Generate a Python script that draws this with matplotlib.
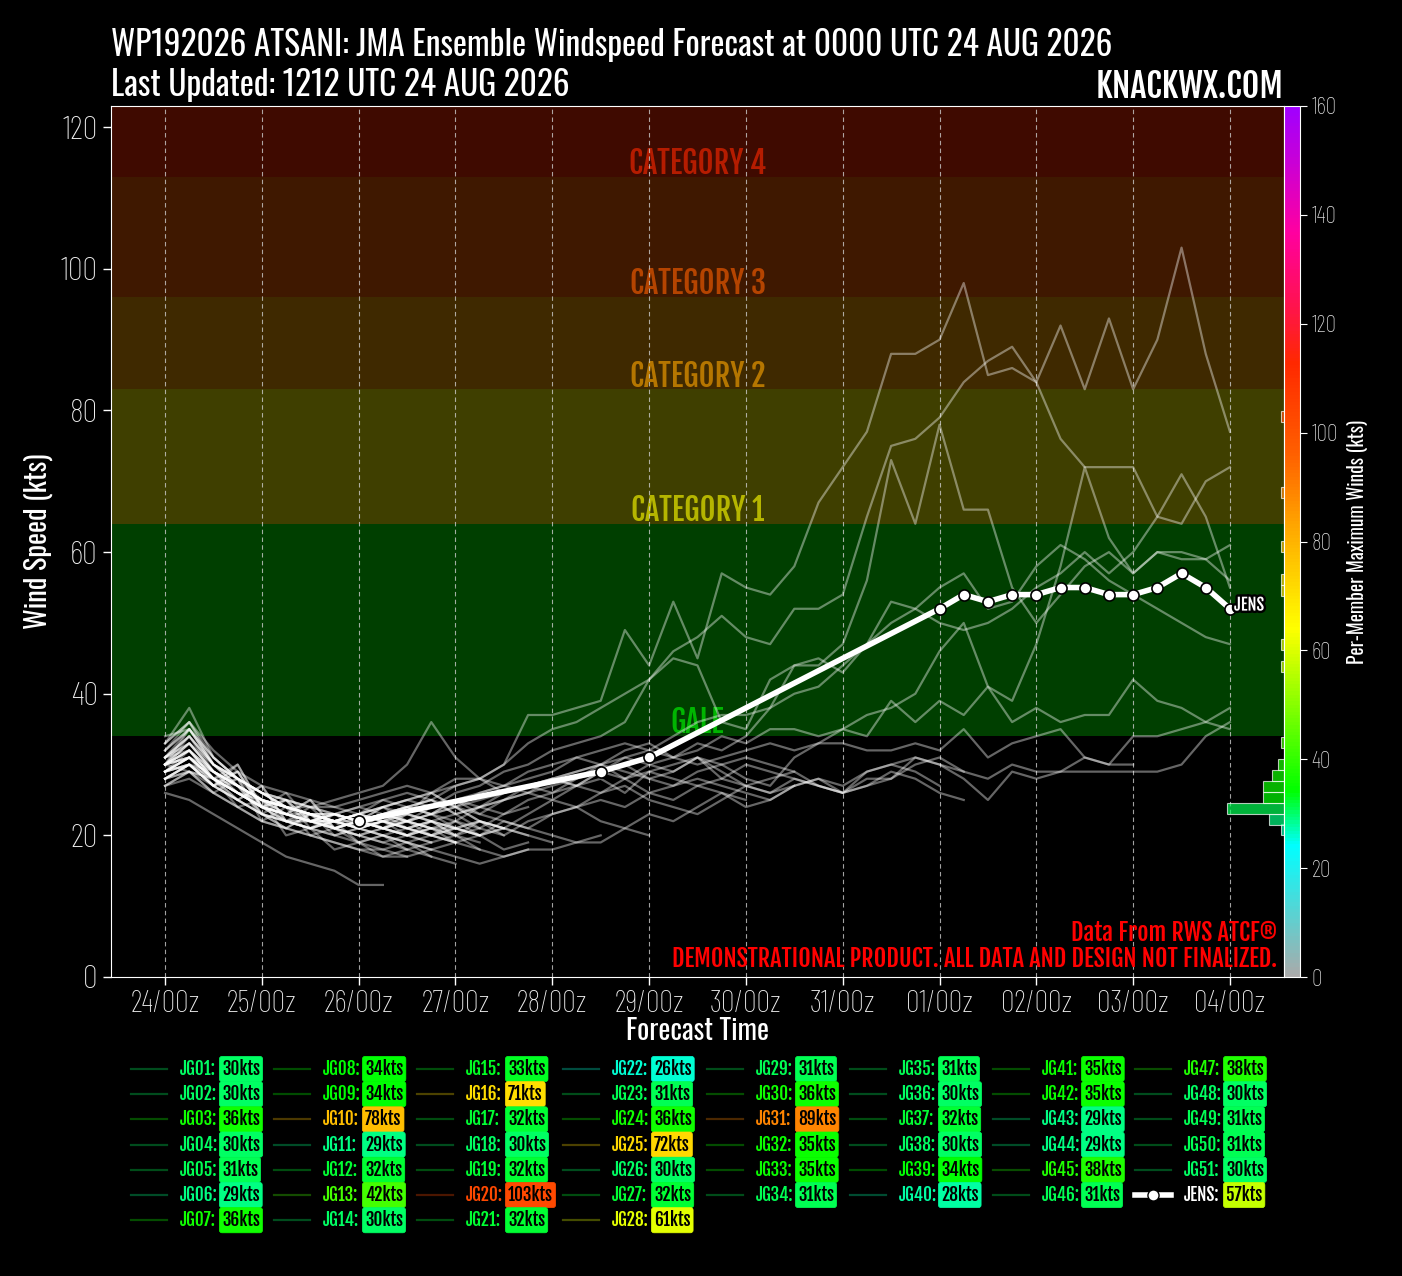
import numpy as np
import matplotlib
matplotlib.use('Agg')
import matplotlib.pyplot as plt
import matplotlib.colors as mcolors
import matplotlib.patheffects as pe

# ---- data ----
title_1 = 'WP192026 ATSANI: JMA Ensemble Windspeed Forecast at 0000 UTC 24 AUG 2026'
title_2 = 'Last Updated: 1212 UTC 24 AUG 2026'
day_labels = ['24/00z', '25/00z', '26/00z', '27/00z', '28/00z', '29/00z',
              '30/00z', '31/00z', '01/00z', '02/00z', '03/00z', '04/00z']

# member tracks, 6-hourly from 24/00z (kts)
JG01 = [30, 29, 28, 26, 24, 25, 22, 22, 23, 21, 22]
JG02 = [29, 30, 28, 25, 23, 22, 21, 22, 21, 22, 20, 21, 19]
JG03 = [33, 36, 31, 28, 26, 24, 24, 23, 22, 24, 23, 26, 24, 22, 21, 23, 25, 27, 28, 26,
        29, 30, 31, 29, 27, 28, 29]
JG04 = [28, 30, 27, 28, 22, 24, 20, 21, 19, 20, 18]
JG05 = [30, 31, 29, 26, 25, 22, 23, 21, 22, 23, 22, 21]
JG06 = [28, 29, 26, 24, 22, 21, 20, 19, 18, 17, 18, 17, 16]
JG07 = [32, 36, 30, 27, 25, 23, 22, 22, 21, 22, 23, 22, 20, 21, 23, 24]
JG08 = [31, 34, 29, 27, 24, 23, 23, 22, 21, 22, 21, 20, 22, 21]
JG09 = [30, 34, 30, 28, 26, 24, 23, 23, 22, 23, 24]
JG10 = [31, 33, 29, 27, 25, 24, 22, 23, 22, 24, 25, 24, 26, 27, 29, 30, 32, 33, 34, 36,
        42, 45, 44, 36, 35, 42, 44, 44, 47, 56, 73, 64, 78, 66, 66, 55, 50, 54, 58, 60,
        57, 60, 59, 59, 61]
JG11 = [27, 29, 28, 24, 25, 20, 21, 18, 19, 17, 17]
JG12 = [30, 32, 29, 26, 24, 23, 22, 21, 22, 21, 20, 22, 21, 20]
JG13 = [29, 31, 28, 26, 25, 24, 23, 22, 23, 24, 25, 26, 27, 28, 27, 29, 30, 31, 30, 32,
        33, 31, 30, 31, 32, 33, 32, 33, 35, 34, 39, 36, 39, 37, 41, 36, 38, 36, 37, 37,
        42, 39, 38, 36, 35]
JG14 = [29, 30, 28, 27, 23, 25, 22, 21, 22, 21, 23, 22]
JG15 = [31, 33, 30, 27, 25, 24, 23, 22, 23, 22, 22, 21, 21]
JG16 = [30, 32, 28, 26, 24, 23, 22, 22, 21, 23, 24, 25, 24, 26, 27, 28, 29, 31, 32, 33,
        32, 34, 36, 37, 37, 38, 40, 41, 44, 47, 50, 52, 50, 49, 50, 52, 55, 57, 60, 57,
        60, 65, 71, 65, 55]
JG17 = [30, 32, 28, 29, 24, 22, 24, 21, 20, 21, 20]
JG18 = [28, 30, 27, 25, 23, 22, 21, 22, 23, 22, 21, 20, 21, 22, 20]
JG19 = [31, 32, 29, 27, 25, 23, 22, 23, 24, 23, 22, 23, 24, 22, 21, 20]
JG20 = [31, 34, 30, 28, 26, 25, 24, 24, 25, 26, 27, 26, 28, 28, 30, 37, 37, 38, 39, 49,
        44, 53, 45, 57, 55, 54, 58, 67, 72, 77, 88, 88, 90, 98, 85, 86, 84, 92, 83, 93,
        83, 90, 103, 88, 77]
JG21 = [29, 32, 28, 26, 24, 23, 22, 22, 21, 22, 21, 22, 20]
JG22 = [26, 25, 23, 21, 19, 17, 16, 15, 13, 13]
JG23 = [29, 31, 28, 25, 23, 22, 21, 20, 21, 20, 19, 20, 19, 18, 17, 18]
JG24 = [33, 36, 32, 29, 27, 26, 25, 24, 23, 25, 24, 23, 25, 24, 23, 25, 26, 27, 29, 31,
        30, 29, 31, 28, 27, 26, 27, 28, 27, 29, 30, 31, 30, 29]
JG25 = [30, 33, 29, 27, 25, 24, 23, 22, 22, 23, 24, 23, 22, 24, 25, 26, 27, 28, 29, 28,
        30, 31, 32, 34, 33, 35, 35, 34, 35, 37, 38, 40, 46, 50, 41, 39, 47, 58, 72, 62,
        57, 60, 60, 59, 56]
JG26 = [28, 30, 29, 27, 23, 21, 23, 21, 20, 19, 18, 19]
JG27 = [30, 32, 28, 26, 24, 22, 22, 21, 22, 23, 22, 21, 22, 20]
JG28 = [29, 31, 28, 26, 24, 23, 22, 21, 22, 23, 24, 25, 23, 24, 25, 27, 26, 28, 30, 31,
        32, 31, 33, 32, 34, 38, 44, 45, 43, 47, 53, 52, 55, 57, 52, 53, 58, 61, 59, 56,
        54, 52, 50, 48, 47]
JG29 = [30, 31, 28, 30, 24, 26, 22, 21, 20, 21, 20, 19, 20, 18]
JG30 = [32, 35, 31, 28, 26, 25, 24, 25, 26, 27, 30, 36, 31, 28, 26, 27, 28, 29, 30, 28,
        26, 27, 28, 27, 26, 25, 27]
JG31 = [30, 33, 29, 27, 25, 23, 22, 23, 24, 25, 26, 25, 27, 28, 30, 33, 35, 36, 38, 40,
        42, 46, 48, 51, 48, 47, 52, 52, 54, 65, 75, 76, 79, 84, 87, 89, 84, 76, 72, 72,
        72, 65, 64, 70, 72]
JG32 = [32, 35, 30, 28, 25, 24, 23, 22, 23, 22, 24, 25, 23, 24, 26, 27, 28, 27, 29, 30,
        28, 29, 31, 30, 28, 27, 31, 33, 33, 32, 32, 33, 32, 35, 31, 33, 34, 35, 31, 30, 30]
JG33 = [34, 35, 30, 27, 25, 24, 23, 23, 22, 21, 22, 21, 20, 22, 21]
JG34 = [29, 31, 28, 26, 24, 22, 21, 20, 21, 22, 21, 20, 19, 20, 18, 19]
JG35 = [30, 31, 27, 29, 24, 23, 25, 21, 20, 19, 20, 19]
JG36 = [28, 30, 27, 25, 23, 22, 22, 21, 22, 21, 20, 21, 20, 19]
JG37 = [30, 32, 29, 27, 25, 24, 23, 22, 23, 22, 21, 22, 21, 20, 22, 21, 20, 19, 20]
JG38 = [29, 30, 27, 30, 24, 25, 21, 22, 19, 18, 19, 17]
JG39 = [31, 34, 30, 28, 26, 24, 23, 22, 22, 23, 22, 24, 25, 23, 22, 21, 23, 24, 25, 24,
        26, 25, 27, 26, 24, 25, 27, 28, 26, 27, 29, 28, 26, 25]
JG40 = [27, 28, 26, 24, 22, 21, 20, 19, 18, 18, 17, 18, 17, 16, 17, 18, 18, 19, 19, 21, 20]
JG41 = [30, 35, 31, 28, 26, 25, 24, 23, 22, 23, 21, 22, 23, 21, 20, 22, 23, 24, 22, 21,
        23, 22, 24, 26, 25]
JG42 = [31, 35, 30, 28, 26, 24, 23, 22, 23, 24, 25, 26, 24, 23, 25, 26, 25, 24, 26, 27,
        25, 24, 23, 25, 27, 26, 28, 27, 26, 29, 30, 29, 27]
JG43 = [27, 29, 26, 28, 23, 21, 23, 20, 19, 20, 19, 18, 19]
JG44 = [28, 29, 27, 25, 27, 22, 21, 23, 21, 20, 19, 18]
JG45 = [30, 33, 29, 27, 25, 24, 23, 22, 23, 24, 22, 23, 25, 26, 27, 26, 28, 29, 30, 29,
        28, 27, 29, 30, 31, 30, 29, 27, 26, 27, 28, 31, 30, 28, 25, 29, 28, 29, 31, 30,
        34, 34, 35, 36, 38]
JG46 = [29, 31, 28, 26, 24, 23, 22, 23, 22, 21, 22, 23, 21, 20, 21]
JG47 = [33, 38, 31, 28, 26, 24, 23, 23, 22, 23, 24, 23, 24, 25, 26, 27, 28, 27, 26, 28,
        29, 28, 27, 28, 30, 29, 28, 27, 26, 28, 28, 30, 31, 29, 28, 30, 29, 29, 29, 29,
        29, 29, 30, 34, 36]
JG48 = [29, 30, 27, 29, 24, 23, 25, 21, 22, 21, 20, 21]
JG49 = [30, 31, 28, 26, 24, 23, 22, 23, 22, 21, 22, 20, 21, 22, 21, 20, 19]
JG50 = [29, 31, 29, 27, 25, 24, 23, 22, 21, 22, 23, 22, 21, 20, 21]
JG51 = [28, 30, 27, 25, 27, 22, 21, 22, 21, 20, 21, 20, 19]

members = [JG01, JG02, JG03, JG04, JG05, JG06, JG07, JG08, JG09, JG10,
           JG11, JG12, JG13, JG14, JG15, JG16, JG17, JG18, JG19, JG20,
           JG21, JG22, JG23, JG24, JG25, JG26, JG27, JG28, JG29, JG30,
           JG31, JG32, JG33, JG34, JG35, JG36, JG37, JG38, JG39, JG40,
           JG41, JG42, JG43, JG44, JG45, JG46, JG47, JG48, JG49, JG50, JG51]
member_names = ['JG%02d' % (i + 1) for i in range(len(members))]

# ensemble mean (hours after 24/00z, kts)
jens_hours = [48, 108, 120, 192, 198, 204, 210, 216, 222, 228, 234, 240, 246, 252, 258, 264]
jens_kts = [22, 29, 31, 52, 54, 53, 54, 54, 55, 55, 54, 54, 55, 57, 55, 52]
jens_max = 57

# side histogram: bin lower edge (kts), member count, colour value (kts)
hist_low = [20.0, 21.5, 23.0, 24.6, 26.1, 27.7, 29.2, 32.3, 43.1, 46.2, 53.8, 55.3, 60.0, 67.7, 78.4]
hist_count = [1, 5, 19, 7, 7, 4, 2, 1, 1, 1, 1, 1, 1, 1, 1]
hist_color_kts = [27, 29, 31, 34, 35, 36, 37, 42, 58, 61, 71, 72, 78, 89, 103]
hist_bin = 1.55

cat_low = [34, 64, 83, 96, 113]
cat_names = ['GALE', 'CATEGORY 1', 'CATEGORY 2', 'CATEGORY 3', 'CATEGORY 4']

# ---- fonts ----
REG = ['Oswald', 'DejaVu Sans']
BOLD = ['Fjalla One', 'DejaVu Sans']
LIGHT = ['Barlow Condensed', 'DejaVu Sans']
plt.rcParams['font.family'] = REG

# ---- colour map ----
stops = [(0, '#aaaaaa'), (24, '#00ffff'), (34, '#00ff00'), (64, '#ffff00'), (83, '#ffa500'),
         (96, '#ff6000'), (113, '#ff2800'), (125, '#ff1058'), (137, '#ff00a0'), (160, '#a000ff')]
cmap = mcolors.LinearSegmentedColormap.from_list('wind', [(v / 160, c) for v, c in stops])
norm = mcolors.Normalize(0, 160)

W, H = 1402, 1276
fig = plt.figure(figsize=(W / 100, H / 100), dpi=100, facecolor='black')
ax = fig.add_axes([111 / W, 1 - 977 / H, (1284 - 111) / W, (977 - 106) / H])
ax.set_facecolor('black')

# category bands
tops = cat_low[1:] + [200]
for lo, hi, name in zip(cat_low, tops, cat_names):
    c = cmap(norm(lo))
    ax.axhspan(lo, hi, color=c, alpha=0.25, lw=0, zorder=0)
    ax.text(0.5, lo - 0.6, name, transform=ax.get_yaxis_transform(), ha='center', va='bottom',
            color=c, alpha=0.62, fontsize=22, family=BOLD, zorder=1)

# members
for trk in members:
    hrs = np.arange(len(trk)) * 6
    ax.plot(hrs, trk, color='white', lw=1.6, alpha=0.4, zorder=3)

# JENS
ax.plot(jens_hours, jens_kts, color='white', lw=4, marker='o', ms=8, mfc='white',
        mec='black', mew=1.2, zorder=6)
ax.annotate('JENS', (jens_hours[-1], jens_kts[-1]), xytext=(3, 3), textcoords='offset points',
            ha='left', va='center', color='white', fontsize=12, family=BOLD, zorder=7,
            path_effects=[pe.withStroke(linewidth=3.5, foreground='black')])

ax.set_xlim(-13.4, 277.4)
ax.set_ylim(0, 123)
ax.set_xticks(np.arange(0, 265, 24))
ax.set_xticklabels(day_labels, family=LIGHT, fontweight='light', fontsize=22)
ax.set_yticks(np.arange(0, 121, 20))
ax.set_yticklabels([str(v) for v in range(0, 121, 20)], family=LIGHT, fontweight='light', fontsize=24)
ax.grid(axis='x', color='#cccccc', ls=(0, (4, 3)), lw=0.8, alpha=0.8)
ax.tick_params(colors='white', labelcolor='#eeeeee', length=6, width=1)
for sp in ax.spines.values():
    sp.set_color('white')
ax.set_ylabel('Wind Speed (kts)', color='white', fontsize=20.5)
ax.yaxis.set_label_coords(-0.0494, 0.5)
ax.set_xlabel('Forecast Time', color='white', fontsize=20.5)
ax.xaxis.set_label_coords(0.5, -0.046)

ax.text(0.994, 0.050, 'Data From RWS ATCF\u00ae', transform=ax.transAxes, ha='right', va='center',
        color='red', fontsize=17.5, family=BOLD, zorder=8)
ax.text(0.994, 0.021, 'DEMONSTRATIONAL PRODUCT. ALL DATA AND DESIGN NOT FINALIZED.',
        transform=ax.transAxes, ha='right', va='center', color='red', fontsize=17.5,
        family=BOLD, zorder=8)

# side histogram
axh = ax.inset_axes([0.9, 0, 0.1, 1])
axh.set_xlim(39, 0)
axh.set_ylim(0, 123)
axh.axis('off')
axh.barh(hist_low, hist_count, height=hist_bin, align='edge',
         color=[cmap(norm(v)) for v in hist_color_kts], alpha=0.7,
         edgecolor=(1, 1, 1, 0.25), lw=0.8)

# colourbar
cax = fig.add_axes([1284 / W, 1 - 977 / H, 16 / W, (977 - 106) / H])
cb = fig.colorbar(plt.cm.ScalarMappable(norm=norm, cmap=cmap), cax=cax)
cb.set_ticks(np.arange(0, 161, 20))
cax.set_yticklabels([str(v) for v in range(0, 161, 20)], family=LIGHT, fontweight='light', fontsize=17)
cb.outline.set_edgecolor('white')
cax.tick_params(colors='white', labelcolor='#dddddd', length=5)
cb.set_label('Per-Member Maximum Winds (kts)', color='white', fontsize=14, labelpad=6)

# titles
fig.text(111 / W, 1 - 45 / H, title_1, ha='left', va='center', color='white', fontsize=24)
fig.text(111 / W, 1 - 85 / H, title_2, ha='left', va='center', color='white', fontsize=24)
fig.text(1284 / W, 1 - 87 / H, 'KNACKWX.COM', ha='right', va='center', color='white',
         fontsize=24.5, family=BOLD)

# legend, laid out column-major like an 8-column legend
col_x = [131, 274, 417, 563, 707, 850, 993, 1135]
entries = [(n, max(t)) for n, t in zip(member_names, members)] + [('JENS', jens_max)]
for i, (name, mx) in enumerate(entries):
    if i < 28:
        col, row = i // 7, i % 7
    else:
        col, row = 4 + (i - 28) // 6, (i - 28) % 6
    x0 = col_x[col] / W
    y0 = 1 - (1069 + 25.2 * row) / H
    c = cmap(norm(mx))
    if name == 'JENS':
        fig.add_artist(plt.Line2D([x0, x0 + 36 / W], [y0, y0], color='white', lw=4,
                                  transform=fig.transFigure))
        fig.add_artist(plt.Line2D([x0 + 18 / W], [y0], marker='o', ms=8, mfc='white', mec='black',
                                  transform=fig.transFigure))
        tc = 'white'
    else:
        fig.add_artist(plt.Line2D([x0, x0 + 36 / W], [y0, y0], color=c, alpha=0.3, lw=1.6,
                                  transform=fig.transFigure))
        tc = c
    fig.text(x0 + 49 / W, y0, name + ':', ha='left', va='center', color=tc,
             fontsize=12.5, family=BOLD)
    fig.text(x0 + 91 / W, y0, '%dkts' % mx, ha='left', va='center', color='black',
             fontsize=12.5, family=BOLD,
             bbox=dict(boxstyle='round,pad=0.15', fc=c, ec=c, lw=0.5))

fig.savefig('out.png', dpi=100, facecolor='black')
